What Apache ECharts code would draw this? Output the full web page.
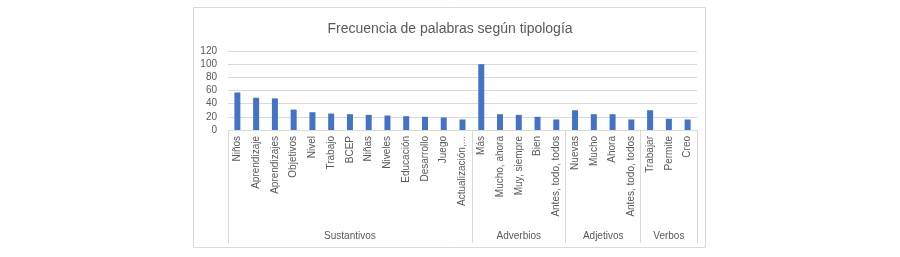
<!DOCTYPE html>
<html>
<head>
<meta charset="utf-8">
<script src="https://cdn.jsdelivr.net/npm/echarts@6/dist/echarts.min.js"></script>
<style>
html,body{margin:0;padding:0;background:#fff;}
#chart{width:900px;height:257px;}
</style>
</head>
<body>
<div id="chart"></div>
<script>
const categories = ["Niños","Aprendizaje","Aprendizajes","Objetivos","Nivel","Trabajo","BCEP","Niñas","Niveles","Educación","Desarrollo","Juego","Actualización,...",
  "Más","Mucho, ahora","Muy, siempre","Bien","Antes, todo, todos",
  "Nuevas","Mucho","Ahora","Antes, todo, todos",
  "Trabajar","Permite","Creo"];
const values = [57,49,48,31,27,25,24,23,22,21,20,19,16,
  100,24,23,20,16,
  30,24,24,16,
  30,17,16];
const groupNames = ["Sustantivos","Adverbios","Adjetivos","Verbos"];
const groupSizes = [13,5,4,3];
const yTicks = [0,20,40,60,80,100,120];

// group boundaries and centres in category units
const bounds = [0];
groupSizes.forEach(s => bounds.push(bounds[bounds.length-1] + s));
const centres = groupSizes.map((s,i) => bounds[i] + s/2);

const chart = echarts.init(document.getElementById('chart'), null, {renderer:'canvas'});
const txt = '#595959';
const font = 'Liberation Sans';
chart.setOption({
  animation:false,
  title:{
    text:'Frecuencia de palabras según tipología',
    left:'center', top:17,
    textStyle:{fontFamily:font,fontSize:14,fontWeight:'normal',color:txt}
  },
  graphic:[{
    type:'rect', shape:{x:193.5,y:7.5,width:512,height:240},
    style:{fill:'none',stroke:'#d9d9d9',lineWidth:1}, silent:true
  }],
  grid:{left:228,right:203,top:51,bottom:127,containLabel:false},
  xAxis:[{
    type:'category', data:categories, position:'bottom',
    axisLine:{show:true,lineStyle:{color:'#d9d9d9',width:1}},
    axisTick:{show:false},
    axisLabel:{interval:0,rotate:90,margin:6,color:txt,fontFamily:font,fontSize:10}
  },{
    type:'value', min:0, max:bounds[bounds.length-1], position:'bottom',
    axisLine:{show:false},
    splitLine:{show:false},
    axisTick:{show:true,length:113,customValues:bounds,lineStyle:{color:'#d9d9d9',width:1}},
    axisLabel:{
      show:true, margin:101, customValues:centres,
      color:txt, fontFamily:font, fontSize:10,
      formatter:function(v){ const i = centres.indexOf(v); return i>=0 ? groupNames[i] : ''; }
    }
  }],
  yAxis:{
    type:'value', min:yTicks[0], max:yTicks[yTicks.length-1], interval:20,
    axisLine:{show:false}, axisTick:{show:false},
    splitLine:{lineStyle:{color:'#d9d9d9',width:1}},
    axisLabel:{margin:11,color:txt,fontFamily:font,fontSize:10}
  },
  series:[{
    type:'bar', data:values, xAxisIndex:0, barWidth:6,
    itemStyle:{color:'#4472C4'}
  }]
});
</script>
</body>
</html>
